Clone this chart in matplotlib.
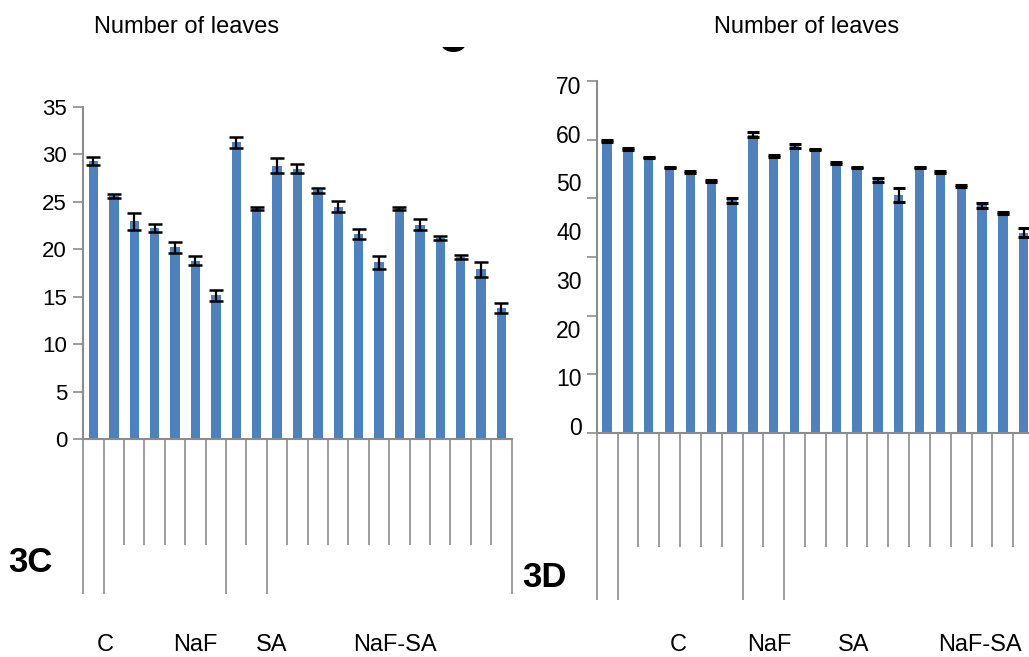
import numpy as np
import matplotlib
matplotlib.use("Agg")
import matplotlib.pyplot as plt
from matplotlib.patches import Polygon

plt.rcParams['font.family'] = ['Liberation Sans', 'DejaVu Sans']

# ---------------- data ----------------
title = "Number of leaves"
groups = ["C", "NaF", "SA", "NaF-SA"]
group_bounds = [-0.5, 0.5, 6.5, 8.5, 20.5]

leaves_3c = [29.3, 25.6, 22.95, 22.25, 20.2, 18.8, 15.15, 31.3, 24.3, 28.8, 28.5,
             26.2, 24.5, 21.6, 18.65, 24.3, 22.6, 21.2, 19.2, 17.9, 13.8]
err_3c = [0.45, 0.2, 0.9, 0.4, 0.55, 0.45, 0.55, 0.58, 0.2, 0.8, 0.47,
          0.22, 0.56, 0.56, 0.68, 0.2, 0.56, 0.2, 0.2, 0.8, 0.56]

leaves_3d = [58.5, 56.9, 55.2, 53.1, 52.1, 50.3, 46.3, 59.8, 55.4, 57.5, 56.8,
             54.0, 53.1, 50.5, 47.4, 53.1, 52.1, 49.3, 45.3, 43.8, 39.7]
err_3d = [0.15, 0.15, 0.1, 0.15, 0.15, 0.2, 0.5, 0.48, 0.2, 0.48, 0.15,
          0.15, 0.1, 0.48, 1.44, 0.15, 0.15, 0.15, 0.48, 0.2, 0.92]

yticks_3c = [0, 5, 10, 15, 20, 25, 30, 35]
yticks_3d = [0, 10, 20, 30, 40, 50, 60, 70]

# ---------------- layout ----------------
W, H = 1029, 657
fig = plt.figure(figsize=(W / 100, H / 100), dpi=100)
BLUE = '#4f81bd'
GREY = '#8c8c8c'
PX = 72 / 100  # points per pixel


def fx(px):
    return px / W


def fy(py):
    return 1 - py / H


def style_axis(ax, short_px, long_px):
    for s in ['top', 'right']:
        ax.spines[s].set_visible(False)
    for s in ['left', 'bottom']:
        ax.spines[s].set_color(GREY)
        ax.spines[s].set_linewidth(1.5)
    ax.set_xticks(np.arange(-0.5, 21, 1), minor=True)
    ax.set_xticks(group_bounds)
    ax.set_xticklabels([''] * len(group_bounds))
    ax.tick_params(axis='x', which='minor', length=short_px * PX, width=1.2,
                   color=GREY, direction='out')
    ax.tick_params(axis='x', which='major', length=long_px * PX, width=1.2,
                   color=GREY, direction='out')


# ---- panel 3C ----
ax1 = fig.add_axes([fx(83.3), fy(439), fx(428.3), 332 / H])
x = np.arange(len(leaves_3c))
ax1.bar(x, leaves_3c, width=0.46, color=BLUE, yerr=err_3c,
        error_kw=dict(ecolor='black', elinewidth=1.6, capsize=5, capthick=1.8))
ax1.set_xlim(-0.5, 20.5)
ax1.set_ylim(0, 35)
style_axis(ax1, 106, 155)
ax1.set_yticks(yticks_3c)
ax1.tick_params(axis='y', length=10 * PX, width=1.2, color=GREY, pad=4.5,
                labelsize=16, labelcolor='black')

# ---- panel 3D ----
ymin, ymax = -1.44, 70.83
ax2 = fig.add_axes([fx(596.7), fy(433), fx(21 * 20.83), 352 / H])
x2 = np.arange(len(leaves_3d))
vals = np.array(leaves_3d)
ax2.bar(x2, vals - ymin, bottom=ymin, width=0.45, color=BLUE, yerr=err_3d,
        error_kw=dict(ecolor='black', elinewidth=1.6, capsize=4.6, capthick=2.2))
ax2.set_xlim(-0.5, 20.5)
ax2.set_ylim(ymin, ymax)
style_axis(ax2, 114, 167)
ax2.set_yticks(yticks_3d)
ax2.set_yticks(np.linspace(ymin, ymax, 7), minor=True)
ax2.tick_params(axis='y', which='major', length=0, pad=15 * PX,
                labelsize=16.5, labelcolor='black')
ax2.tick_params(axis='y', which='minor', length=10 * PX, width=1.2, color=GREY)

# ---- texts ----
fig.text(fx(186.5), fy(33), title, ha='center', va='baseline', fontsize=17)
fig.text(fx(806.5), fy(33), title, ha='center', va='baseline', fontsize=17)

for g, px in zip(groups, [105, 195, 272, 395]):
    fig.text(fx(px), fy(651), g, ha='center', va='baseline', fontsize=17)
for g, px in zip(groups, [678.5, 769.5, 854, 979.5]):
    fig.text(fx(px), fy(651), g, ha='center', va='baseline', fontsize=17)

fig.text(fx(8), fy(572), "3C", ha='left', va='baseline', fontsize=25,
         fontweight='bold')
fig.text(fx(522), fy(587), "3D", ha='left', va='baseline', fontsize=25,
         fontweight='bold')

# clipped fragment of a letter at the top (lower part of an ellipse)
t0 = np.arcsin(3 / 8)
t = np.linspace(t0, np.pi - t0, 40)
bx = 453.5 + 12 * np.cos(t)
by = 44 + 8 * np.sin(t)
blob = Polygon(np.column_stack([fx(bx), fy(by)]), closed=True,
               transform=fig.transFigure, facecolor='black', edgecolor='none')
fig.add_artist(blob)

fig.savefig("out.png", dpi=100)
